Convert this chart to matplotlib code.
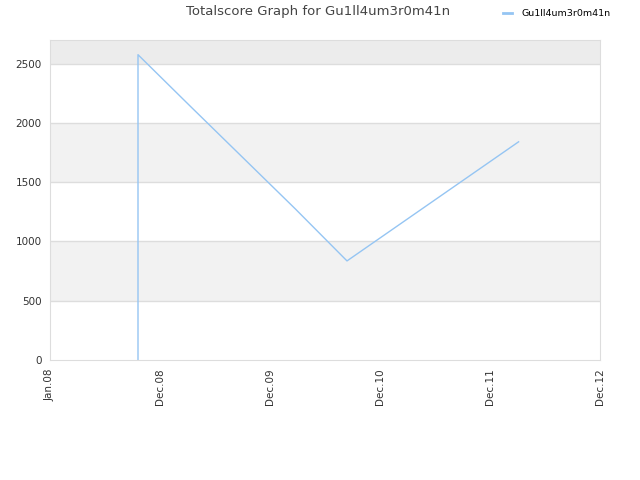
import matplotlib
matplotlib.use("Agg")
import matplotlib.pyplot as plt

# positions on an evenly spaced axis (one unit per tick label)
x_vals = [0.80, 0.80, 1.28, 2.23, 2.70, 4.26]
scores = [0, 2576, 2137, 1275, 836, 1841]
tick_labels = ["Jan.08", "Dec.08", "Dec.09", "Dec.10", "Dec.11", "Dec.12"]
player = "Gu1ll4um3r0m41n"

fig = plt.figure(figsize=(6.4, 4.8), dpi=100)
ax = fig.add_axes([50 / 640, 120 / 480, 550 / 640, 320 / 480])

ymax = 2700
# alternating background bands
ax.axhspan(2500, ymax, color="#ececec", zorder=0, lw=0)
ax.axhspan(1500, 2000, color="#f2f2f2", zorder=0, lw=0)
ax.axhspan(500, 1000, color="#f2f2f2", zorder=0, lw=0)
for yv in [500, 1000, 1500, 2000, 2500]:
    ax.axhline(yv, color="#dddddd", lw=1, zorder=1)

ax.plot(x_vals, scores, color="#95c5f3", lw=1, zorder=2, label=player)

ax.set_xlim(0, 5)
ax.set_ylim(0, ymax)
ax.set_xticks(range(len(tick_labels)))
ax.set_xticklabels(tick_labels, rotation=90, fontsize=7.5, color="#333333")
ax.set_yticks([0, 500, 1000, 1500, 2000, 2500])
ax.tick_params(axis="y", labelsize=7.5, colors="#333333", length=0, pad=6)
ax.tick_params(axis="x", length=0, pad=6)
for s in ax.spines.values():
    s.set_color("#dddddd")

fig.text(0.497, 0.975, "Totalscore Graph for " + player, ha="center", va="center",
         fontsize=9.5, color="#444444")
leg = fig.legend(loc="center left", bbox_to_anchor=(0.772, 0.971), frameon=False,
                 fontsize=6.8, handlelength=1.0, handletextpad=1.0)
for h in leg.get_lines():
    h.set_linewidth(2)

plt.savefig("out.png", dpi=100)
plt.close()
